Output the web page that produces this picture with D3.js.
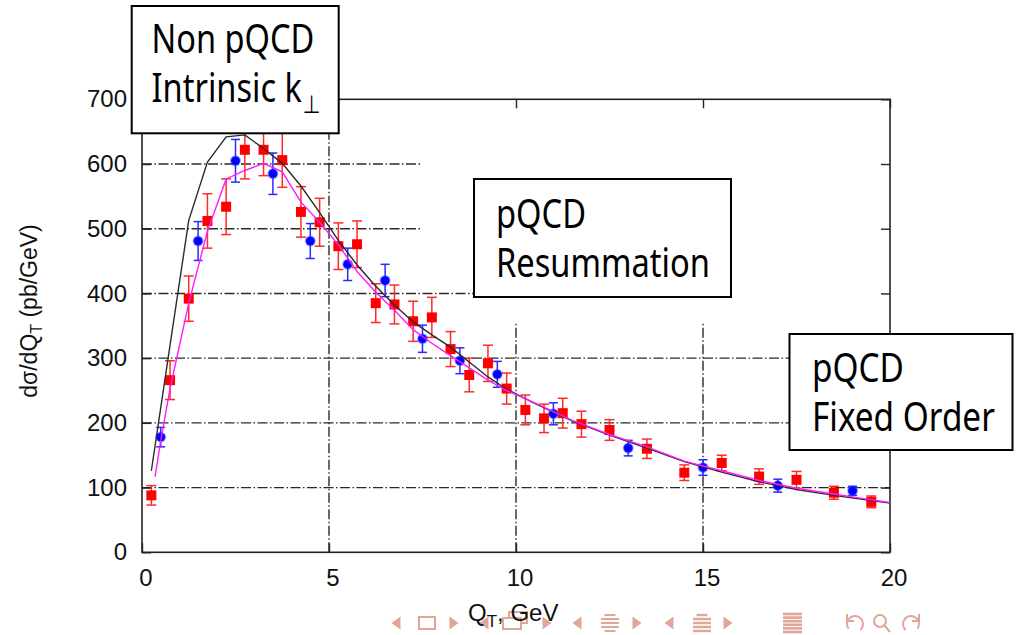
<!DOCTYPE html>
<html>
<head>
<meta charset="utf-8">
<script src="https://cdn.jsdelivr.net/npm/d3@7"></script>
<style>
  body { margin: 0; background: #fff; }
  svg { display: block; }
</style>
</head>
<body>
<svg id="chart" width="1017" height="635"></svg>
<script>
// Measured cross section (red squares), GeV and pb/GeV
const redQ   = [0.25, 0.75, 1.25, 1.75, 2.25, 2.75, 3.25, 3.75, 4.25, 4.75, 5.25, 5.75, 6.25, 6.75, 7.25, 7.75,
                8.25, 8.75, 9.25, 9.75, 10.25, 10.75, 11.25, 11.75, 12.5, 13.5, 14.5, 15.5, 16.5, 17.5, 18.5, 19.5];
const redV   = [88, 266, 392, 512, 534, 622, 622, 606, 526, 510, 473, 476, 385, 383, 357, 363,
                314, 274, 292, 253, 220, 207, 215, 198, 189, 160, 123, 138, 117, 112, 92, 78];
const redErr = [15, 30, 35, 42, 43, 45, 40, 42, 39, 37, 36, 36, 30, 30, 31, 31,
                27, 26, 28, 24, 23, 22, 23, 20, 16, 15, 12, 12, 12, 13, 10, 9];

// Second data set (blue circles)
const blueQ   = [0.5, 1.5, 2.5, 3.5, 4.5, 5.5, 6.5, 7.5, 8.5, 9.5, 11, 13, 15, 17, 19];
const blueV   = [178, 481, 605, 585, 481, 445, 420, 330, 296, 275, 214, 161, 131, 103, 95];
const blueErr = [15, 30, 33, 32, 27, 25, 25, 21, 20, 20, 17, 12, 12, 10, 7];

// Theory curves
const blackQ = [0.25, 0.75, 1.25, 1.75, 2.25, 2.75, 3.25, 3.75, 4.25, 4.75, 5.25, 5.75, 6.25, 6.75, 7.25, 7.75,
                8.25, 8.75, 9.25, 9.75, 10.5, 11.5, 12.5, 13.5, 14.5, 15.5, 16.5, 17.5, 18.5, 19.5, 20];
const blackV = [126, 320, 513, 603, 642, 645, 624, 601, 566, 525, 482, 444, 411, 382, 356, 336,
                317, 294, 271, 252, 230, 203, 181, 161, 140, 124, 109, 97, 88, 80, 76];

const magentaQ = [0.35, 0.5, 0.75, 1.25, 1.75, 2.25, 2.75, 3.25, 3.75, 4.25, 4.75, 5.25, 5.75, 6.25, 6.75, 7.25,
                  7.75, 8.25, 8.75, 9.25, 9.75, 10.5, 11.5, 12.5, 13.5, 14.5, 15.5, 16.5, 17.5, 18.5, 19.5, 20];
const magentaV = [117, 172, 253, 385, 496, 577, 590, 601, 588, 541, 510, 475, 434, 402, 374, 344,
                  323, 304, 285, 266, 250, 231, 204, 182, 163, 141, 126, 111, 99, 90, 81, 77];

// Axis ticks
const xTicks = [0, 5, 10, 15, 20];
const yTicks = [0, 100, 200, 300, 400, 500, 600, 700];

// Grid lines and how far each one runs (the key area leaves them short)
const gridY    = [100, 200, 300, 400, 500, 600];
const gridYEnd = [20, 20, 20, 9, 7.5, 7.5];
const gridX    = [5, 10, 15];
const gridXEnd = [700, 354, 354];

// Region labels
const boxLines = [
  ["Non pQCD", "Intrinsic k"],
  ["pQCD", "Resummation"],
  ["pQCD", "Fixed Order"]
];

const svg = d3.select("#chart");
const x = d3.scaleLinear().domain([0, 20]).range([142, 890]);
const y = d3.scaleLinear().domain([0, 700]).range([552.3, 99.3]);

const frameColor = "#222";
const tickFont = "'Liberation Sans', Arial, sans-serif";
const boxFont = "'Noto Sans', 'Open Sans', sans-serif";

// --- grid ---
const grid = svg.append("g")
  .attr("stroke", "#2a2a2a")
  .attr("stroke-width", 1.4)
  .attr("stroke-dasharray", "10,2.5,1.5,2.5")
  .attr("fill", "none");
gridY.forEach((v, i) => grid.append("line")
  .attr("x1", x(0)).attr("x2", x(gridYEnd[i]))
  .attr("y1", y(v)).attr("y2", y(v)));
gridX.forEach((q, i) => grid.append("line")
  .attr("x1", x(q)).attr("x2", x(q))
  .attr("y1", y(0)).attr("y2", y(gridXEnd[i])));

// --- axes (ticks point inward) ---
function styleAxis(g) {
  g.select(".domain").remove();
  g.selectAll(".tick line").attr("stroke", frameColor).attr("stroke-width", 1.4);
  g.selectAll(".tick text")
    .attr("font-family", tickFont)
    .attr("font-size", 24)
    .attr("fill", "#111");
}
svg.append("g")
  .attr("transform", `translate(${x(0)},0)`)
  .call(d3.axisLeft(y).tickValues(yTicks).tickSizeInner(-9).tickSizeOuter(0).tickPadding(15))
  .call(styleAxis);
svg.append("g")
  .attr("transform", `translate(0,${y(0)})`)
  .call(d3.axisBottom(x).tickValues(xTicks).tickSizeInner(-9).tickSizeOuter(0).tickPadding(17))
  .call(styleAxis)
  .call(g => g.selectAll(".tick text").attr("dx", 3.5));
svg.append("g")
  .attr("transform", `translate(${x(20)},0)`)
  .call(d3.axisRight(y).tickValues(yTicks).tickSizeInner(-9).tickSizeOuter(0).tickFormat(""))
  .call(styleAxis);
svg.append("g")
  .attr("transform", `translate(0,${y(700)})`)
  .call(d3.axisTop(x).tickValues(xTicks).tickSizeInner(-9).tickSizeOuter(0).tickFormat(""))
  .call(styleAxis);

// plot frame
svg.append("rect")
  .attr("x", x(0)).attr("y", y(700))
  .attr("width", x(20) - x(0)).attr("height", y(0) - y(700))
  .attr("fill", "none").attr("stroke", frameColor).attr("stroke-width", 1.6);

// --- error bars and markers ---
function errorBars(qs, vs, es, color, cap) {
  const g = svg.append("g").attr("stroke", color).attr("stroke-width", 1.5).attr("fill", "none");
  qs.forEach((q, i) => {
    const cx = x(q), yt = y(vs[i] + es[i]), yb = y(vs[i] - es[i]);
    g.append("line").attr("x1", cx).attr("x2", cx).attr("y1", yt).attr("y2", yb);
    g.append("line").attr("x1", cx - cap).attr("x2", cx + cap).attr("y1", yt).attr("y2", yt);
    g.append("line").attr("x1", cx - cap).attr("x2", cx + cap).attr("y1", yb).attr("y2", yb);
  });
}
errorBars(redQ, redV, redErr, "#ff2a2a", 5);
errorBars(blueQ, blueV, blueErr, "#2a2aff", 4.5);

svg.append("g").selectAll("rect")
  .data(redQ.map((q, i) => [q, redV[i]]))
  .join("rect")
  .attr("x", d => x(d[0]) - 5).attr("y", d => y(d[1]) - 5)
  .attr("width", 10).attr("height", 10)
  .attr("fill", "#ff0000");

svg.append("g").selectAll("circle")
  .data(blueQ.map((q, i) => [q, blueV[i]]))
  .join("circle")
  .attr("cx", d => x(d[0])).attr("cy", d => y(d[1]))
  .attr("r", 4.6)
  .attr("fill", "#0000ff")
  .attr("stroke", "rgba(60,60,255,0.4)").attr("stroke-width", 2);

// --- theory curves ---
const line = d3.line().x(d => x(d[0])).y(d => y(d[1]));
svg.append("path")
  .datum(blackQ.map((q, i) => [q, blackV[i]]))
  .attr("d", line).attr("fill", "none")
  .attr("stroke", "#2b2b2b").attr("stroke-width", 1.4);
svg.append("path")
  .datum(magentaQ.map((q, i) => [q, magentaV[i]]))
  .attr("d", line).attr("fill", "none")
  .attr("stroke", "#ff1aff").attr("stroke-width", 1.4);

// --- region label boxes ---
// both lines of a box share one text element, squeezed to the narrow slide face
const boxes = [
  { x: 131.7, y: 6, w: 207, h: 127.3, tx: 151.5, base: 53.3, lead: 48.4, len: 169 },
  { x: 474, y: 179, w: 257, h: 118, tx: 496, base: 228, lead: 49, len: 214 },
  { x: 789.5, y: 334, w: 223, h: 116, tx: 812, base: 381.7, lead: 49, len: 183 }
];
boxes.forEach((b, i) => {
  const g = svg.append("g");
  g.append("rect")
    .attr("x", b.x).attr("y", b.y).attr("width", b.w).attr("height", b.h)
    .attr("fill", "#fff").attr("stroke", "#000").attr("stroke-width", 2);
  const txt = g.append("text")
    .attr("font-family", boxFont).attr("font-size", 40)
    .attr("fill", "#000");
  txt.append("tspan").attr("x", 0).attr("y", 0).text(boxLines[i][0]);
  const second = txt.append("tspan").attr("x", 0).attr("y", b.lead).text(boxLines[i][1]);
  if (i === 0) {
    // perpendicular subscript on k
    txt.append("tspan")
      .attr("font-family", "'DejaVu Sans', sans-serif")
      .attr("font-size", 25).attr("dy", 11).attr("dx", 1)
      .text("\u22A5");
  }
  // width of the longer (second) line, subscript included
  const bb = txt.node().getBBox();
  const ext = bb.x + bb.width;
  txt.attr("transform", `translate(${b.tx},${b.base}) scale(${b.len / ext},1)`);
});

// --- navigation symbols along the bottom ---
const navColor = "#e0a697";
const cy = 623;
const nav = svg.append("g").attr("fill", "none").attr("stroke", navColor).attr("stroke-width", 2);
function triL(cx) {
  nav.append("path").attr("d", `M${cx + 4.5},${cy - 6.5}L${cx - 4.5},${cy}L${cx + 4.5},${cy + 6.5}Z`)
    .attr("fill", navColor).attr("stroke", "none");
}
function triR(cx) {
  nav.append("path").attr("d", `M${cx - 4.5},${cy - 6.5}L${cx + 4.5},${cy}L${cx - 4.5},${cy + 6.5}Z`)
    .attr("fill", navColor).attr("stroke", "none");
}
function lines(x0, w, n, step, short, width) {
  for (let k = 0; k < n; k++) {
    const yy = cy - (n - 1) * step / 2 + k * step;
    const inset = short.includes(k) ? w * 0.2 : 0;
    nav.append("line").attr("x1", x0 + inset).attr("x2", x0 + w - inset)
      .attr("y1", yy).attr("y2", yy).attr("stroke-width", width);
  }
}
triL(396); nav.append("rect").attr("x", 419).attr("y", cy - 6).attr("width", 16).attr("height", 12); triR(454);
triL(484);
nav.append("rect").attr("x", 509).attr("y", cy - 11).attr("width", 18).attr("height", 11);
nav.append("rect").attr("x", 503).attr("y", cy - 5).attr("width", 18).attr("height", 11).attr("fill", "#fff");
triR(547);
triL(577); lines(601, 18, 5, 4, [0, 4], 2); triR(637);
triL(669); lines(693, 18, 5, 4, [0], 2.4); triR(728);
lines(783, 19, 6, 3.6, [], 2.6);
// undo / search / redo
nav.append("path").attr("d", d3.arc()({ innerRadius: 8, outerRadius: 8, startAngle: -2.2, endAngle: 2.4 }))
  .attr("transform", `translate(855,${cy + 1})`);
nav.append("path").attr("d", `M${847},${cy - 9}L${847},${cy - 2}L${854},${cy - 2}`);
nav.append("circle").attr("cx", 880).attr("cy", cy - 2).attr("r", 6);
nav.append("line").attr("x1", 884.5).attr("y1", cy + 2.5).attr("x2", 890).attr("y2", cy + 9);
nav.append("path").attr("d", d3.arc()({ innerRadius: 8, outerRadius: 8, startAngle: -2.4, endAngle: 2.2 }))
  .attr("transform", `translate(911,${cy + 1})`);
nav.append("path").attr("d", `M${919},${cy - 9}L${919},${cy - 2}L${912},${cy - 2}`);

// --- axis titles ---
const xt = svg.append("text")
  .attr("x", 468).attr("y", 621)
  .attr("font-family", tickFont).attr("font-size", 24).attr("fill", "#111");
xt.append("tspan").text("Q");
xt.append("tspan").attr("font-size", 17).attr("dy", 6).text("T");
xt.append("tspan").attr("dy", -6).text(", GeV");

const yt = svg.append("text")
  .attr("transform", "translate(37,311) rotate(-90)")
  .attr("text-anchor", "middle")
  .attr("font-family", tickFont).attr("font-size", 23).attr("fill", "#111");
yt.append("tspan").text("d\u03C3/dQ");
yt.append("tspan").attr("font-size", 16).attr("dy", 5).text("T");
yt.append("tspan").attr("dy", -5).text(" (pb/GeV)");
</script>
</body>
</html>
